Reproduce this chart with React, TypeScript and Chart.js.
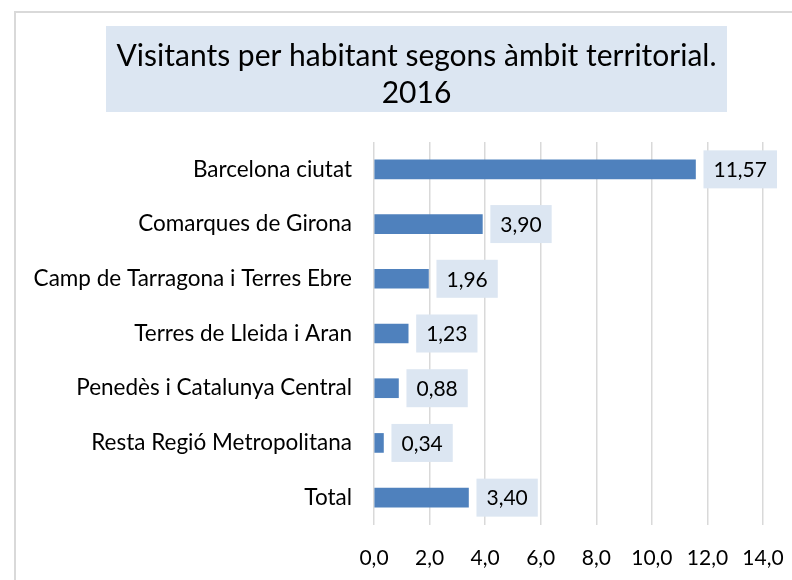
import React, { useEffect, useRef } from "react";
import { Chart, registerables } from "chart.js";

Chart.register(...registerables);

const categories = [
  "Barcelona ciutat",
  "Comarques de Girona",
  "Camp de Tarragona i Terres Ebre",
  "Terres de Lleida i Aran",
  "Penedès i Catalunya Central",
  "Resta Regió Metropolitana",
  "Total",
];
const values = [11.57, 3.9, 1.96, 1.23, 0.88, 0.34, 3.4];
const titleLines = ["Visitants per habitant segons àmbit territorial.", "2016"];
const xMin = 0;
const xMax = 14;
const xStep = 2;

const FONT = "Lato, 'Open Sans', sans-serif";
const BOX_BG = "#dce6f2";
const BAR = "#4f81bd";
const GRID = "#d9d9d9";

const fmt = (v: number, d: number) => v.toFixed(d).replace(".", ",");

const decorPlugin = {
  id: "decor",
  beforeDraw(chart: any) {
    const ctx = chart.ctx;
    ctx.save();
    ctx.fillStyle = "#ffffff";
    ctx.fillRect(0, 0, chart.width, chart.height);
    // outer border
    ctx.strokeStyle = GRID;
    ctx.lineWidth = 2;
    ctx.strokeRect(15, 12, chart.width + 20, chart.height + 20);
    // title box
    ctx.fillStyle = BOX_BG;
    ctx.fillRect(106, 26, 621, 86);
    ctx.fillStyle = "#000000";
    ctx.font = `30px ${FONT}`;
    ctx.textAlign = "center";
    ctx.textBaseline = "middle";
    ctx.fillText(titleLines[0], 416.5, 56);
    ctx.fillText(titleLines[1], 416.5, 93);
    ctx.restore();
  },
  afterDatasetsDraw(chart: any) {
    const ctx = chart.ctx;
    const meta = chart.getDatasetMeta(0);
    const data = chart.data.datasets[0].data as number[];
    ctx.save();
    ctx.font = `21px ${FONT}`;
    ctx.textBaseline = "middle";
    ctx.textAlign = "center";
    meta.data.forEach((bar: any, i: number) => {
      const txt = fmt(data[i], 2);
      const w = ctx.measureText(txt).width + 20;
      const h = 38;
      const x0 = bar.x + 8;
      ctx.fillStyle = BOX_BG;
      ctx.fillRect(x0, bar.y - h / 2, w, h);
      ctx.fillStyle = "#000000";
      ctx.fillText(txt, x0 + w / 2, bar.y + 1);
    });
    ctx.restore();
  },
};

export default function App() {
  const ref = useRef<HTMLCanvasElement>(null);
  useEffect(() => {
    if (!ref.current) return;
    const chart = new Chart(ref.current, {
      type: "bar",
      data: {
        labels: categories,
        datasets: [
          {
            data: values,
            backgroundColor: BAR,
            borderWidth: 0,
            barThickness: 19,
          },
        ],
      },
      plugins: [decorPlugin],
      options: {
        indexAxis: "y",
        animation: false,
        responsive: false,
        maintainAspectRatio: false,
        layout: { padding: { top: 142, right: 29, left: 0, bottom: 0 } },
        plugins: {
          legend: { display: false },
          title: { display: false },
          tooltip: { enabled: false },
        },
        scales: {
          x: {
            min: xMin,
            max: xMax,
            ticks: {
              stepSize: xStep,
              color: "#000000",
              font: { family: FONT, size: 21 },
              padding: 21,
              callback: (v: any) => fmt(Number(v), 1),
            },
            grid: { color: GRID, lineWidth: 1.5, drawTicks: false },
            border: { display: false },
            afterFit: (s: any) => {
              s.height = 55;
              s.paddingLeft = 0;
              s.paddingRight = 0;
            },
          },
          y: {
            ticks: {
              color: "#000000",
              font: { family: FONT, size: 22.5 },
              padding: 22,
            },
            grid: { display: false, drawTicks: false },
            border: { display: false },
            afterFit: (s: any) => {
              s.width = 374;
              s.paddingTop = 0;
              s.paddingBottom = 0;
            },
          },
        },
      },
    });
    return () => chart.destroy();
  }, []);
  return (
    <div style={{ position: "fixed", left: 0, top: 0, width: 792, height: 580 }}>
      <canvas ref={ref} width={792} height={580} style={{ width: 792, height: 580 }} />
    </div>
  );
}
